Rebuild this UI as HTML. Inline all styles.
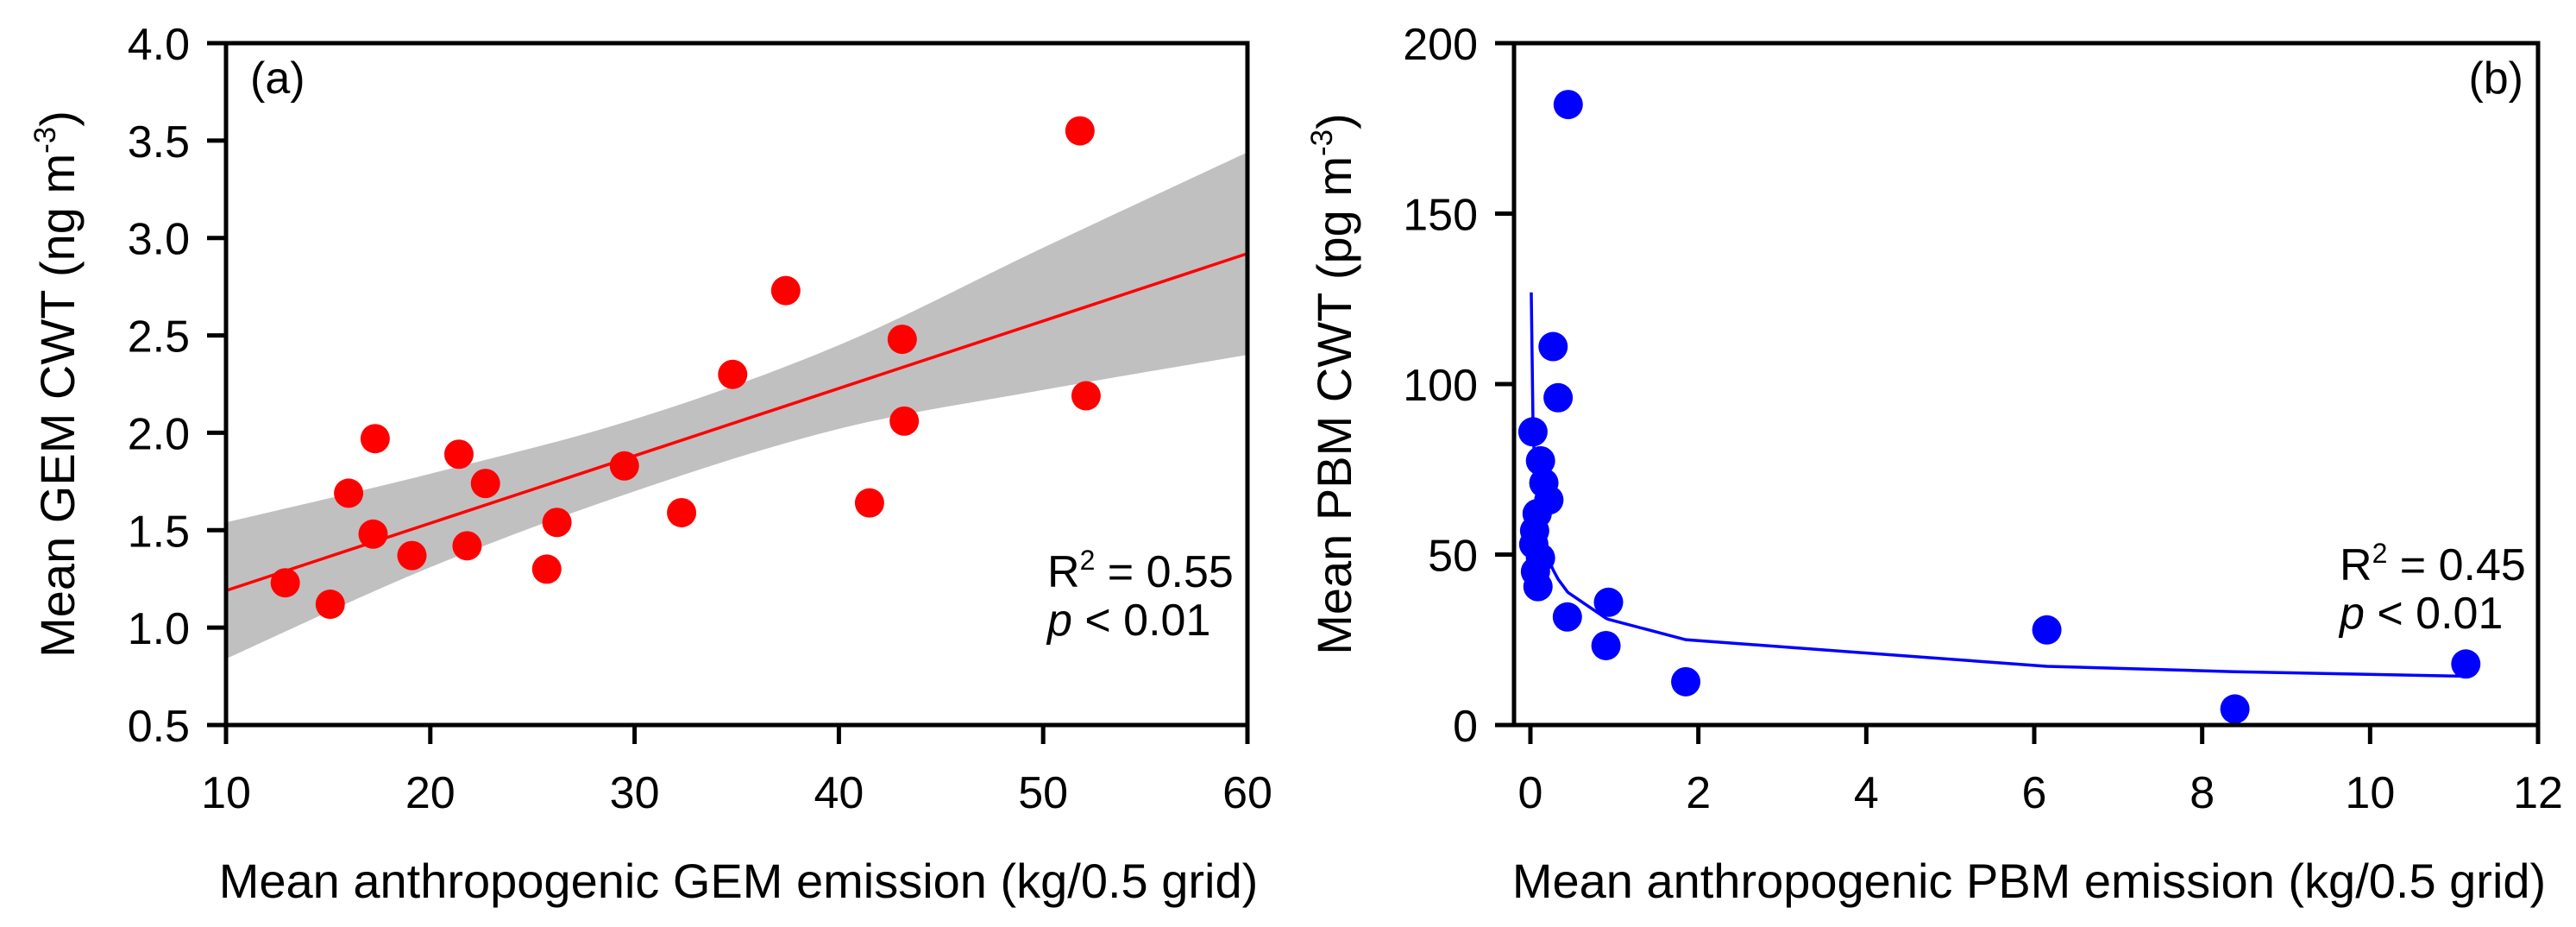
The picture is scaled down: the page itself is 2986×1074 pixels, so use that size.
<!DOCTYPE html>
<html><head><meta charset="utf-8"><style>
html,body{margin:0;padding:0;background:#fff}
svg{display:block}
text{font-family:"Liberation Sans",Arial,sans-serif;fill:#000}
</style></head><body>
<svg id="chart" width="2986" height="1074" viewBox="0 0 2986 1074" xmlns="http://www.w3.org/2000/svg"></svg>
<script>
// ---- Panel A data ----
const gemX = [12.9,15.1,16.0,17.3,17.2,19.1,21.4,21.8,22.7,25.7,26.2,29.5,32.3,34.8,37.4,41.5,43.1,43.2,51.8,52.1];
const gemY = [1.23,1.12,1.69,1.97,1.48,1.37,1.89,1.42,1.74,1.30,1.54,1.83,1.59,2.30,2.73,1.64,2.48,2.06,3.55,2.19];
const gemFitX = [10,60];
const gemFitY = [1.19,2.92];
const bandX = [10,20,30,40,50,60];
const bandHi = [1.54,1.79,2.07,2.45,2.95,3.44];
const bandLo = [0.84,1.31,1.70,2.02,2.22,2.40];
const aXTicks = [10,20,30,40,50,60];
const aYTicks = [0.5,1.0,1.5,2.0,2.5,3.0,3.5,4.0];
// ---- Panel B data ----
const pbmX = [0.45,0.27,0.33,0.03,0.12,0.16,0.22,0.08,0.05,0.04,0.12,0.06,0.09,0.44,0.93,0.90,1.85,6.15,8.39,11.14];
const pbmY = [182,111,96,86,77.5,71,66,62,57,53,49,45,40.6,31.7,36,23.3,12.7,27.9,4.7,17.9];
const pbmFitA = 30.3;
const pbmFitB = -0.311;
const pbmFitStart = 0.01;
const bXTicks = [0,2,4,6,8,10,12];
const bYTicks = [0,50,100,150,200];

const NS="http://www.w3.org/2000/svg";
const svg=document.getElementById('chart');
function mk(tag,attrs,parent){const e=document.createElementNS(NS,tag);for(const k in attrs)e.setAttribute(k,attrs[k]);(parent||svg).appendChild(e);return e;}
function scale(d0,d1,r0,r1){return v=>r0+(v-d0)/(d1-d0)*(r1-r0);}
function fmt1(v){return v.toFixed(1);}
function smooth(pts,start){
  let d=start?'M'+pts[0][0]+','+pts[0][1]:'L'+pts[0][0]+','+pts[0][1];
  for(let i=0;i<pts.length-1;i++){
    const p0=pts[Math.max(i-1,0)],p1=pts[i],p2=pts[i+1],p3=pts[Math.min(i+2,pts.length-1)];
    const c1=[p1[0]+(p2[0]-p0[0])/6,p1[1]+(p2[1]-p0[1])/6];
    const c2=[p2[0]-(p3[0]-p1[0])/6,p2[1]-(p3[1]-p1[1])/6];
    d+='C'+c1[0]+','+c1[1]+' '+c2[0]+','+c2[1]+' '+p2[0]+','+p2[1];
  }
  return d;
}

function axes(g,x,y,L,R,T,B,xt,yt,yfmt){
  const frame=mk('rect',{x:L,y:T,width:R-L,height:B-T,fill:'none',stroke:'#000','stroke-width':5},g);
  
  
  xt.forEach(v=>{
    const t=mk('line',{x1:x(v),x2:x(v),y1:B,y2:B+22,stroke:'#000','stroke-width':5},g);
    
    
    const l=mk('text',{x:x(v),y:B+96,'text-anchor':'middle','font-size':52},g);l.textContent=v;
    
    
  });
  yt.forEach(v=>{
    const t=mk('line',{x1:L-22,x2:L,y1:y(v),y2:y(v),stroke:'#000','stroke-width':5},g);
    
    
    const l=mk('text',{x:L-42,y:y(v)+19,'text-anchor':'end','font-size':52},g);l.textContent=yfmt(v);
    
    
  });
}

// Panel A
(function(){
  const g=mk('g',{});
  
  
  const L=262,R=1446,T=50,B=840;
  const x=scale(10,60,L,R), y=scale(0.5,4.0,B,T);
  const hi=bandX.map((v,i)=>[x(v),y(bandHi[i])]);
  const lo=bandX.map((v,i)=>[x(v),y(bandLo[i])]).reverse();
  const band=mk('path',{d:smooth(hi,true)+smooth(lo,false)+'Z',fill:'#c0c0c0'},g);
  
  
  const fl=mk('line',{x1:x(gemFitX[0]),y1:y(gemFitY[0]),x2:x(gemFitX[1]),y2:y(gemFitY[1]),stroke:'#ff0000','stroke-width':3.5},g);
  
  
  gemX.forEach((v,i)=>{
    const c=mk('circle',{cx:x(v),cy:y(gemY[i]),r:17,fill:'#ff0000'},g);
    
    
  });
  axes(g,x,y,L,R,T,B,aXTicks,aYTicks,fmt1);
  const lab=mk('text',{x:290,y:108,'font-size':52},g);lab.textContent='(a)';
  
  
  const r2=mk('text',{x:1214,y:680,'font-size':52},g);r2.innerHTML='R<tspan dy="-20" font-size="32">2</tspan><tspan dy="20"> = 0.55</tspan>';
  
  
  const p=mk('text',{x:1214,y:736,'font-size':52},g);p.innerHTML='<tspan font-style="italic">p</tspan> &lt; 0.01';
  
  
  const xt=mk('text',{x:856,y:1040,'text-anchor':'middle','font-size':56},g);xt.textContent='Mean anthropogenic GEM emission (kg/0.5 grid)';
  
  
  const yt=mk('text',{x:0,y:0,'text-anchor':'middle','font-size':56,transform:'translate(86,445) rotate(-90)'},g);
  yt.innerHTML='Mean GEM CWT (ng m<tspan dy="-22" font-size="35">-3</tspan><tspan dy="22">)</tspan>';
  
  
})();

// Panel B
(function(){
  const g=mk('g',{});
  
  
  const L=1755,R=2942,T=50,B=840;
  const x=scale(0,12,1774,2942), y=scale(0,200,B,T);
  const cx=[pbmFitStart].concat(pbmX.slice().sort((a,b)=>a-b));
  let d='';
  cx.forEach((v,i)=>{d+=(i?'L':'M')+x(v)+','+y(pbmFitA*Math.pow(v,pbmFitB));});
  const fl=mk('path',{d:d,fill:'none',stroke:'#0000ff','stroke-width':3.5},g);
  
  
  pbmX.forEach((v,i)=>{
    const c=mk('circle',{cx:x(v),cy:y(pbmY[i]),r:17,fill:'#0000ff'},g);
    
    
  });
  axes(g,x,y,L,R,T,B,bXTicks,bYTicks,v=>String(v));
  const lab=mk('text',{x:2925,y:108,'text-anchor':'end','font-size':52},g);lab.textContent='(b)';
  
  
  const r2=mk('text',{x:2712,y:672,'font-size':52},g);r2.innerHTML='R<tspan dy="-20" font-size="32">2</tspan><tspan dy="20"> = 0.45</tspan>';
  
  
  const p=mk('text',{x:2712,y:728,'font-size':52},g);p.innerHTML='<tspan font-style="italic">p</tspan> &lt; 0.01';
  
  
  const xt=mk('text',{x:2352,y:1040,'text-anchor':'middle','font-size':56},g);xt.textContent='Mean anthropogenic PBM emission (kg/0.5 grid)';
  
  
  const yt=mk('text',{x:0,y:0,'text-anchor':'middle','font-size':56,transform:'translate(1566,445) rotate(-90)'},g);
  yt.innerHTML='Mean PBM CWT (pg m<tspan dy="-22" font-size="35">-3</tspan><tspan dy="22">)</tspan>';
  
  
})();
</script>
</body></html>
